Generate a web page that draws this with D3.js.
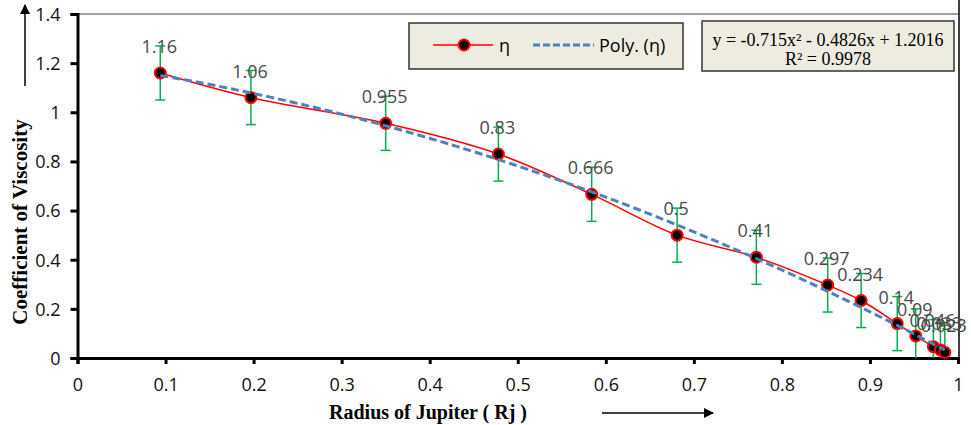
<!DOCTYPE html>
<html><head><meta charset="utf-8">
<script src="https://cdn.jsdelivr.net/npm/d3@7"></script>
<style>body{margin:0;background:#fff;} svg{display:block;}</style>
</head><body>
<svg id="chart" width="971" height="425"></svg>
<script>
// ---- data ----
const radius = [0.094, 0.197, 0.35, 0.478, 0.584, 0.681, 0.771, 0.852, 0.89, 0.931, 0.952, 0.972, 0.980, 0.985];
const eta    = [1.16, 1.06, 0.955, 0.83, 0.666, 0.5, 0.41, 0.297, 0.234, 0.14, 0.09, 0.046, 0.033, 0.023];
const etaLabels = ["1.16","1.06","0.955","0.83","0.666","0.5","0.41","0.297","0.234","0.14","0.09","0.046","0.033","0.023"];
const errorBar = 0.11;
const polyCoef = [-0.715, -0.4826, 1.2016]; // a x^2 + b x + c
const xTicks = [0,0.1,0.2,0.3,0.4,0.5,0.6,0.7,0.8,0.9,1];
const yTicks = [0,0.2,0.4,0.6,0.8,1,1.2,1.4];
const equationText = ["y = -0.715x² - 0.4826x + 1.2016", "R² = 0.9978"];

const svg = d3.select("#chart");
const x = d3.scaleLinear().domain([0,1]).range([77.5,958]);
const y = d3.scaleLinear().domain([0,1.4]).range([358,14]);
const pts = radius.map((r,i)=>({x:r,y:eta[i],label:etaLabels[i]}));

// plot area borders
svg.append("line").attr("x1",x(0)).attr("x2",959).attr("y1",14).attr("y2",14)
  .attr("stroke","#808080").attr("stroke-width",1.5);
svg.append("line").attr("x1",959).attr("x2",959).attr("y1",0).attr("y2",358)
  .attr("stroke","#000").attr("stroke-width",1.5);

// axes
const fontTick = "'Open Sans', sans-serif";
const xAxis = svg.append("g").attr("transform",`translate(0,${y(0)})`)
  .call(d3.axisBottom(x).tickValues(xTicks).tickFormat(d3.format("")).tickSizeOuter(0).tickSize(6).tickPadding(14));
const yAxis = svg.append("g").attr("transform",`translate(${x(0)},0)`)
  .call(d3.axisLeft(y).tickValues(yTicks).tickFormat(d3.format("")).tickSizeOuter(0).tickSize(7).tickPadding(10));
[xAxis,yAxis].forEach(g=>{
  g.select(".domain").attr("stroke","#000").attr("stroke-width",3);
  g.selectAll(".tick line").attr("stroke","#000").attr("stroke-width",3);
  g.selectAll(".tick text").attr("font-family",fontTick).attr("font-size",18).attr("fill","#111");
});
yAxis.selectAll(".tick text").attr("dy","0.35em");

// error bars
const eb = svg.append("g");
pts.forEach(p=>{
  const top = p.y+errorBar, bot = Math.max(0,p.y-errorBar);
  eb.append("line").attr("x1",x(p.x)).attr("x2",x(p.x)).attr("y1",y(top)).attr("y2",y(bot))
    .attr("stroke","#00B050").attr("stroke-width",1.5);
  eb.append("line").attr("x1",x(p.x)-5).attr("x2",x(p.x)+5).attr("y1",y(top)).attr("y2",y(top))
    .attr("stroke","#00B050").attr("stroke-width",1.5);
  if (p.y-errorBar>0) eb.append("line").attr("x1",x(p.x)-5).attr("x2",x(p.x)+5).attr("y1",y(bot)).attr("y2",y(bot))
    .attr("stroke","#00B050").attr("stroke-width",1.5);
});

// smoothed series line
const line = d3.line().x(d=>x(d.x)).y(d=>y(d.y)).curve(d3.curveCatmullRom.alpha(0.5));
svg.append("path").datum(pts).attr("d",line).attr("fill","none").attr("stroke","#FF0000").attr("stroke-width",1.5);

// markers
svg.append("g").selectAll("circle").data(pts).join("circle")
  .attr("cx",d=>x(d.x)).attr("cy",d=>y(d.y)).attr("r",5.5)
  .attr("fill","#000").attr("stroke","#FF0000").attr("stroke-width",2);

// polynomial trendline
const poly = v=>polyCoef[0]*v*v+polyCoef[1]*v+polyCoef[2];
const tx = d3.range(0,101).map(i=>radius[0]+(radius[radius.length-1]-radius[0])*i/100);
svg.append("path").datum(tx).attr("d",d3.line().x(d=>x(d)).y(d=>y(poly(d))))
  .attr("fill","none").attr("stroke","#4F81BD").attr("stroke-width",3).attr("stroke-dasharray","8,4");

// data labels
svg.append("g").selectAll("text").data(pts).join("text")
  .attr("x",d=>x(d.x)-1).attr("y",d=>y(d.y)-20).attr("text-anchor","middle")
  .attr("font-family",fontTick).attr("font-size",18).attr("fill","#4a4a4a").text(d=>d.label);

// legend
const lg = svg.append("g");
lg.append("rect").attr("x",409).attr("y",23).attr("width",274).attr("height",46)
  .attr("fill","#EEECE1").attr("stroke","#333").attr("stroke-width",1.5);
lg.append("line").attr("x1",433).attr("x2",493).attr("y1",45).attr("y2",45).attr("stroke","#FF0000").attr("stroke-width",1.5);
lg.append("circle").attr("cx",464).attr("cy",45).attr("r",5.5).attr("fill","#000").attr("stroke","#FF0000").attr("stroke-width",2);
lg.append("text").attr("x",499).attr("y",52).attr("font-family",fontTick).attr("font-size",18).attr("fill","#000").text("η");
lg.append("line").attr("x1",533).attr("x2",594).attr("y1",45).attr("y2",45).attr("stroke","#4F81BD").attr("stroke-width",3).attr("stroke-dasharray","7,3");
lg.append("text").attr("x",599).attr("y",52).attr("font-family",fontTick).attr("font-size",18).attr("fill","#000").text("Poly. (η)");

// equation box
const eq = svg.append("g");
eq.append("rect").attr("x",702).attr("y",21).attr("width",252).attr("height",50)
  .attr("fill","#EEECE1").attr("stroke","#333").attr("stroke-width",1.5);
eq.selectAll("text").data(equationText).join("text")
  .attr("x",828).attr("y",(d,i)=>46+i*18.5).attr("text-anchor","middle")
  .attr("font-family","'Liberation Serif', serif").attr("font-size",18).attr("fill","#000").text(d=>d);

// axis titles
svg.append("text").attr("transform","translate(27,222) rotate(-90)").attr("text-anchor","middle")
  .attr("font-family","'Liberation Serif', serif").attr("font-weight","bold").attr("font-size",21).text("Coefficient of Viscosity");
svg.append("text").attr("x",428).attr("y",419).attr("text-anchor","middle")
  .attr("font-family","'Liberation Serif', serif").attr("font-weight","bold").attr("font-size",20).text("Radius of Jupiter ( Rj )");

// arrows
const defs = svg.append("defs");
defs.append("marker").attr("id","ah").attr("viewBox","0 0 10 10").attr("refX",9).attr("refY",5)
  .attr("markerWidth",10).attr("markerHeight",10).attr("markerUnits","userSpaceOnUse").attr("orient","auto")
  .append("path").attr("d","M0,0 L10,5 L0,10 Z").attr("fill","#000");
svg.append("line").attr("x1",25).attr("x2",25).attr("y1",86).attr("y2",5).attr("stroke","#000").attr("stroke-width",1.5).attr("marker-end","url(#ah)");
svg.append("line").attr("x1",602).attr("x2",713).attr("y1",413).attr("y2",413).attr("stroke","#000").attr("stroke-width",1.5).attr("marker-end","url(#ah)");
</script>
</body></html>
